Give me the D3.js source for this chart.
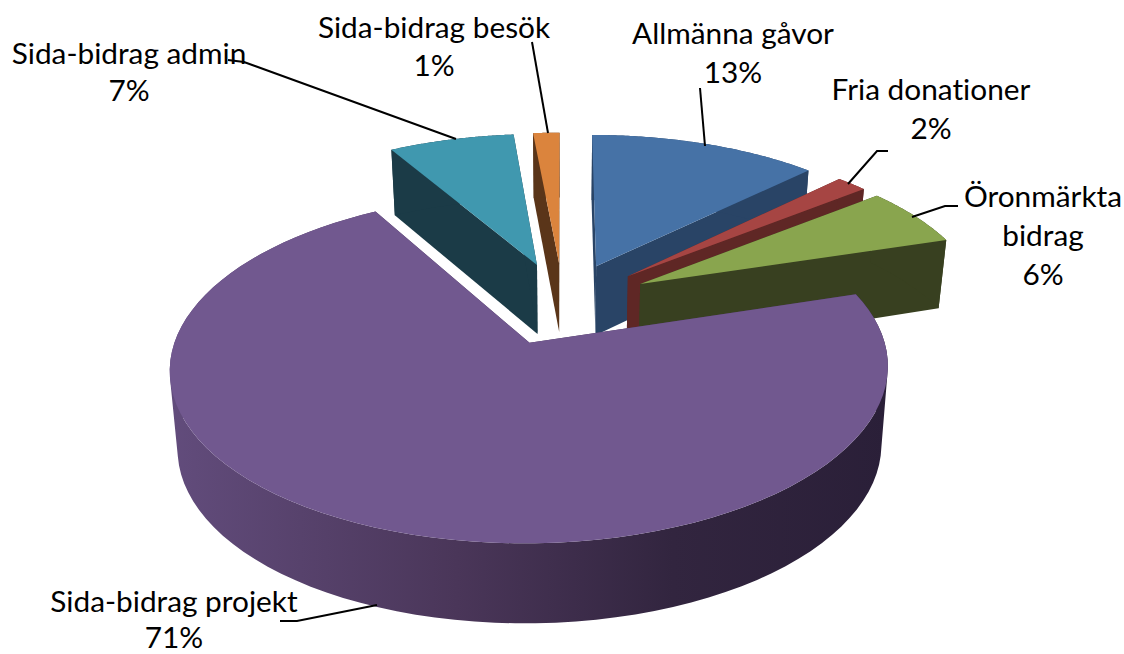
<!DOCTYPE html>
<html lang="sv">
<head>
<meta charset="utf-8">
<title>Intäkter</title>
<script src="https://d3js.org/d3.v7.min.js"></script>
<style>
    html, body { margin: 0; padding: 0; background: #fff; }
    svg { display: block; }
    text { font-family: Lato, "Open Sans", sans-serif; font-size: 29.8px; fill: #000; text-anchor: middle; font-variant-ligatures: none; }
</style>
</head>
<body>
<svg id="chart" width="1124" height="654"></svg>
<script>
// data, clockwise from 12 o'clock. shares, labels show them rounded
const categories = ["Allmänna gåvor", "Fria donationer", "Öronmärkta bidrag", "Sida-bidrag projekt", "Sida-bidrag admin", "Sida-bidrag besök"];
const values = [12.6, 1.7, 5.9, 71.45, 6.9, 1.45];
const topColors = ["#4672a6", "#a64543", "#89a54e", "#71588f", "#4098af", "#db843d"];
const wallColors = ["#294466", "#5f2725", "#384020", "#4a3659", "#1b3b47", "#5a3519"];

// the order the slices are painted in, the big one goes last
const paintOrder = [4, 5, 0, 1, 2, 3];

// label lines are [x, baseline y, text], null means the percent line
const labelLines = [
    [[733, 44, "Allmänna gåvor"], [733, 83, null]],
    [[931, 100, "Fria donationer"], [931, 139, null]],
    [[1043, 207, "Öronmärkta"], [1043, 246, "bidrag"], [1043, 285, null]],
    [[174, 612, "Sida-bidrag projekt"], [174, 648, null]],
    [[129, 64, "Sida-bidrag admin"], [129, 101, null]],
    [[434, 38, "Sida-bidrag besök"], [434, 76, null]]
];
const leaders = [
    [[700, 88], [705, 146]],
    [[888, 151], [877, 151], [848, 184]],
    [[958, 206], [945, 206], [912, 217]],
    [[280, 621], [297, 621], [377, 605]],
    [[228, 60], [244, 62], [456, 139]],
    [[532, 42], [548, 133]]
];

// perspective of the pie plane
const ox = 563, oy = 303;
const radius = 343, flat = 159.5, persp = 0.142;
const explode = 0.259;
const bottomScale = 0.98;
// wall height grows toward the viewer
const wallHeight = d3.scaleLinear().domain([-1.24, -0.24, 0.24, 1.24]).range([65, 69, 78, 80]);

function project(gx, gz, bottom) {
    const w = 1 - persp * gz;
    let x = radius * gx / w;
    let y = flat * gz / w;
    if (bottom) {
        x *= bottomScale;
        y += wallHeight(gz);
    }
    return [ox + x, oy + y];
}

const svg = d3.select("#chart");
const line = d3.line();

const defs = svg.append("defs");
const grad = defs.append("linearGradient")
    .attr("id", "wallGrad")
    .attr("gradientUnits", "userSpaceOnUse")
    .attr("x1", 170).attr("x2", 888).attr("y1", 0).attr("y2", 0);
[[0, "#624c7c"], [0.4, "#4a3659"], [0.7, "#32253f"], [1, "#2a1f38"]].forEach(s => {
    grad.append("stop").attr("offset", s[0]).attr("stop-color", s[1]);
});

const pie = d3.pie().sort(null).value(d => d);
const slices = pie(values);
const steps = 90;

paintOrder.forEach(i => {
    const s = slices[i];
    const mid = (s.startAngle + s.endAngle) / 2;
    const cx = explode * Math.sin(mid), cz = -explode * Math.cos(mid);

    const rim = d3.range(0, steps + 1).map(k => {
        const a = s.startAngle + (s.endAngle - s.startAngle) * k / steps;
        return [cx + Math.sin(a), cz - Math.cos(a)];
    });
    const topRim = rim.map(p => project(p[0], p[1], false));
    const botRim = rim.map(p => project(p[0], p[1], true));
    const apexTop = project(cx, cz, false), apexBot = project(cx, cz, true);
    const wall = i === 3 ? "url(#wallGrad)" : wallColors[i];

    const g = svg.append("g").attr("class", "slice");
    // the two cut faces
    [[topRim[0], botRim[0]], [topRim[steps], botRim[steps]]].forEach(e => {
        g.append("path")
            .attr("d", line([apexTop, e[0], e[1], apexBot]) + "Z")
            .attr("fill", wallColors[i]);
    });
    // outer wall: all quads in one path, wound the same way so overlaps stay filled and no seams show
    const wallPath = d3.range(steps).map(k => {
        const quad = [topRim[k], topRim[k + 1], botRim[k + 1], botRim[k]];
        if (d3.polygonArea(quad) < 0) quad.reverse();
        return line(quad) + "Z";
    }).join("");
    g.append("path")
        .attr("d", wallPath)
        .attr("fill", wall);
    // top face
    g.append("path")
        .attr("d", line([apexTop].concat(topRim)) + "Z")
        .attr("fill", topColors[i]);
});

leaders.forEach(pts => {
    svg.append("path")
        .attr("d", line(pts))
        .attr("fill", "none")
        .attr("stroke", "#000")
        .attr("stroke-width", 2);
});

labelLines.forEach((lines, i) => {
    lines.forEach(l => {
        svg.append("text")
            .attr("x", l[0])
            .attr("y", l[1])
            .text(l[2] === null ? Math.round(values[i]) + "%" : l[2]);
    });
});
</script>
</body>
</html>
